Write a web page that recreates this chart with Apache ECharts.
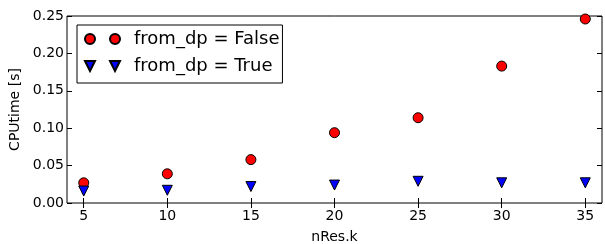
<!DOCTYPE html>
<html>
<head>
<meta charset="utf-8">
<script src="https://cdn.jsdelivr.net/npm/echarts@6/dist/echarts.min.js"></script>
<style>
  html, body { margin: 0; padding: 0; background: #fff; }
  #chart { width: 605px; height: 244px; }
</style>
</head>
<body>
<div id="chart"></div>
<script>
// data
const nRes = [5, 10, 15, 20, 25, 30, 35];
const cpuFromDpFalse = [0.027, 0.039, 0.058, 0.094, 0.114, 0.183, 0.246];
const cpuFromDpTrue = [0.016, 0.017, 0.022, 0.024, 0.029, 0.027, 0.027];
const xTicks = [5, 10, 15, 20, 25, 30, 35];
const yTicks = [0, 0.05, 0.1, 0.15, 0.2, 0.25];
const seriesNames = ["from_dp = False", "from_dp = True"];

const font = "DejaVu Sans";
const twoCircles = "path://M0,5a5,5 0 1,0 10,0a5,5 0 1,0 -10,0M25,5a5,5 0 1,0 10,0a5,5 0 1,0 -10,0";
const twoTriangles = "path://M0,0L10,0L5,10ZM25,0L35,0L30,10Z";

let chart = echarts.init(document.getElementById("chart"));

// bottom/left axes carry labels, top/right only the inward ticks
function xAxis(pos, show) {
  return {
    type: "value",
    position: pos,
    min: 4,
    max: 36,
    name: show ? "nRes.k" : "",
    nameLocation: "middle",
    nameGap: 27,
    nameTextStyle: { fontFamily: font, fontSize: 14, color: "#000" },
    axisLine: { show: false },
    axisTick: { inside: true, length: 5, customValues: xTicks, lineStyle: { color: "#000" } },
    axisLabel: {
      show: show,
      customValues: xTicks,
      margin: 6,
      fontFamily: font,
      fontSize: 14,
      color: "#000"
    },
    splitLine: { show: false }
  };
}

function yAxis(pos, show) {
  return {
    type: "value",
    position: pos,
    min: 0,
    max: 0.25,
    interval: 0.05,
    name: show ? "CPUtime [s]" : "",
    nameLocation: "middle",
    nameGap: 39,
    nameTextStyle: { fontFamily: font, fontSize: 14, color: "#000" },
    axisLine: { show: false },
    axisTick: { inside: true, length: 5, customValues: yTicks, lineStyle: { color: "#000" } },
    axisLabel: {
      show: show,
      customValues: yTicks,
      margin: 3,
      fontFamily: font,
      fontSize: 14,
      color: "#000",
      formatter: v => Number(v).toFixed(2)
    },
    splitLine: { show: false }
  };
}

chart.setOption({
  animation: false,
  grid: {
    left: 67,
    right: 3,
    top: 16,
    bottom: 41,
    outerBoundsMode: "none",
    containLabel: false,
    show: true,
    borderColor: "#000",
    borderWidth: 1
  },
  legend: {
    orient: "vertical",
    left: 77,
    top: 25,
    padding: [4, 3, 7, 7],
    borderColor: "#000",
    borderWidth: 1,
    itemWidth: 35,
    itemHeight: 10,
    itemGap: 7,
    textStyle: {
      fontFamily: font,
      fontSize: 18,
      lineHeight: 20,
      color: "#000",
      padding: [0, 0, 0, 9]
    },
    data: [
      { name: seriesNames[0], icon: twoCircles },
      { name: seriesNames[1], icon: twoTriangles }
    ]
  },
  xAxis: [xAxis("bottom", true), xAxis("top", false)],
  yAxis: [yAxis("left", true), yAxis("right", false)],
  series: [
    {
      name: seriesNames[0],
      type: "scatter",
      symbol: "circle",
      symbolSize: 10,
      itemStyle: { color: "#ff0000", borderColor: "#000", borderWidth: 1, opacity: 1 },
      data: nRes.map((x, i) => [x, cpuFromDpFalse[i]])
    },
    {
      name: seriesNames[1],
      type: "scatter",
      symbol: "triangle",
      symbolRotate: 180,
      symbolSize: 10,
      itemStyle: { color: "#0000ff", borderColor: "#000", borderWidth: 1, opacity: 1 },
      data: nRes.map((x, i) => [x, cpuFromDpTrue[i]])
    }
  ]
});
</script>
</body>
</html>
